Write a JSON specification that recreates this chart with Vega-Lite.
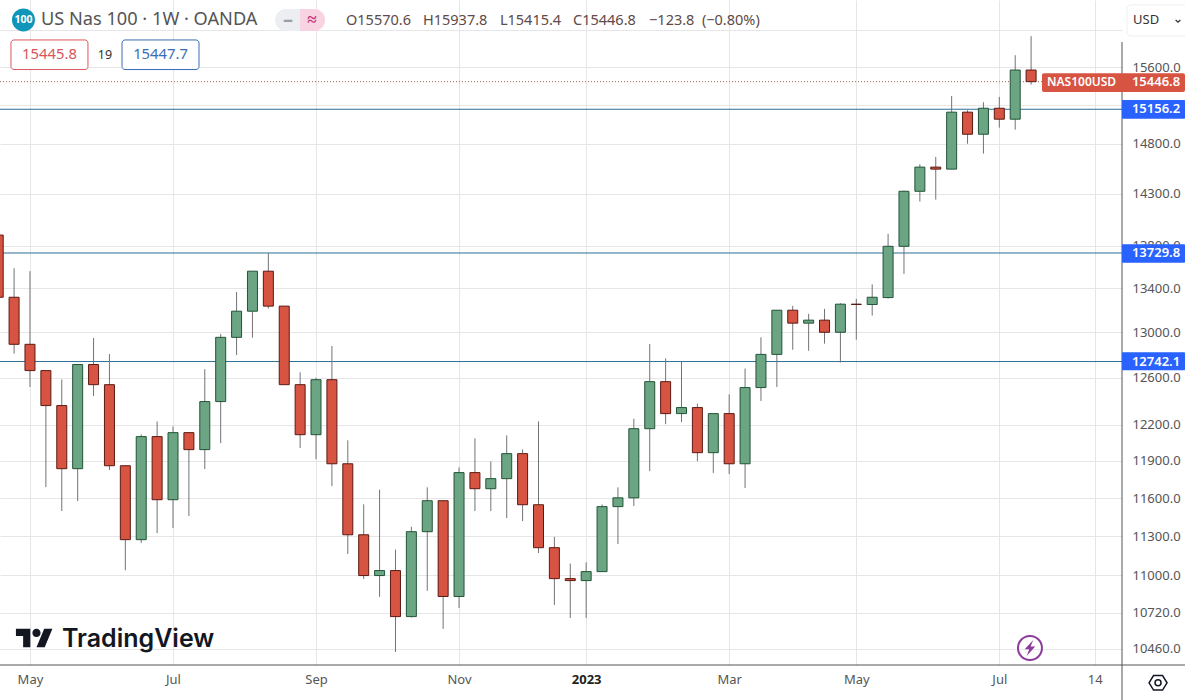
{"$schema":"https://vega.github.io/schema/vega-lite/v6.json","width":1122,"height":665,"autosize":{"type":"none"},"padding":{"left":0,"top":0,"right":63,"bottom":35},"background":"#ffffff","config":{"view":{"stroke":null},"text":{"font":"Noto Sans"}},
"datasets":{
"hlines":[{"date":"2022-04-18T19:00:00Z","date2":"2023-08-26T01:00:00Z","price":15156.2},{"date":"2022-04-18T19:00:00Z","date2":"2023-08-26T01:00:00Z","price":13729.8},{"date":"2022-04-18T19:00:00Z","date2":"2023-08-26T01:00:00Z","price":12742.1}],
"lastline":[{"date":"2022-04-18T19:00:00Z","date2":"2023-07-21T19:00:00Z","price":15446.8}],
"candles":[
{"date":"2022-04-18","open":13900,"high":13900,"low":13318,"close":13318},
{"date":"2022-04-25","open":13318,"high":13587,"low":12811,"close":12894},
{"date":"2022-05-02","open":12894,"high":13559,"low":12521,"close":12663},
{"date":"2022-05-09","open":12663,"high":12663,"low":11688,"close":12362},
{"date":"2022-05-16","open":12362,"high":12586,"low":11497,"close":11837},
{"date":"2022-05-23","open":11837,"high":12716,"low":11576,"close":12716},
{"date":"2022-05-30","open":12716,"high":12950,"low":12444,"close":12541},
{"date":"2022-06-06","open":12541,"high":12808,"low":11826,"close":11861},
{"date":"2022-06-13","open":11861,"high":11861,"low":11038,"close":11273},
{"date":"2022-06-20","open":11273,"high":12120,"low":11247,"close":12101},
{"date":"2022-06-27","open":12101,"high":12228,"low":11324,"close":11587},
{"date":"2022-07-04","open":11587,"high":12186,"low":11363,"close":12134},
{"date":"2022-07-11","open":12134,"high":12134,"low":11458,"close":11993},
{"date":"2022-07-18","open":11993,"high":12675,"low":11834,"close":12396},
{"date":"2022-07-25","open":12396,"high":12986,"low":12047,"close":12956},
{"date":"2022-08-01","open":12956,"high":13366,"low":12799,"close":13191},
{"date":"2022-08-08","open":13191,"high":13559,"low":12953,"close":13559},
{"date":"2022-08-15","open":13559,"high":13728,"low":13215,"close":13237},
{"date":"2022-08-22","open":13237,"high":13237,"low":12541,"close":12541},
{"date":"2022-08-29","open":12541,"high":12648,"low":12006,"close":12117},
{"date":"2022-09-05","open":12117,"high":12601,"low":11915,"close":12584},
{"date":"2022-09-12","open":12584,"high":12879,"low":11696,"close":11877},
{"date":"2022-09-19","open":11877,"high":12070,"low":11163,"close":11311},
{"date":"2022-09-26","open":11311,"high":11550,"low":10972,"close":10998},
{"date":"2022-10-03","open":10998,"high":11667,"low":10838,"close":11036},
{"date":"2022-10-10","open":11036,"high":11196,"low":10435,"close":10692},
{"date":"2022-10-17","open":10692,"high":11374,"low":10685,"close":11335},
{"date":"2022-10-24","open":11335,"high":11686,"low":10883,"close":11579},
{"date":"2022-10-31","open":11579,"high":11579,"low":10602,"close":10841},
{"date":"2022-11-07","open":10841,"high":11847,"low":10756,"close":11805},
{"date":"2022-11-14","open":11805,"high":12086,"low":11497,"close":11675},
{"date":"2022-11-21","open":11675,"high":11896,"low":11497,"close":11756},
{"date":"2022-11-28","open":11756,"high":12111,"low":11442,"close":11960},
{"date":"2022-12-05","open":11960,"high":11995,"low":11418,"close":11547},
{"date":"2022-12-12","open":11547,"high":12228,"low":11170,"close":11211},
{"date":"2022-12-19","open":11211,"high":11295,"low":10778,"close":10975},
{"date":"2022-12-26","open":10975,"high":11089,"low":10682,"close":10960},
{"date":"2023-01-02","open":10960,"high":11099,"low":10682,"close":11028},
{"date":"2023-01-09","open":11028,"high":11550,"low":11028,"close":11532},
{"date":"2023-01-16","open":11532,"high":11686,"low":11239,"close":11602},
{"date":"2023-01-23","open":11602,"high":12251,"low":11536,"close":12167},
{"date":"2023-01-30","open":12167,"high":12897,"low":11817,"close":12567},
{"date":"2023-02-06","open":12567,"high":12770,"low":12205,"close":12294},
{"date":"2023-02-13","open":12294,"high":12744,"low":12222,"close":12345},
{"date":"2023-02-20","open":12345,"high":12379,"low":11898,"close":11968},
{"date":"2023-02-27","open":11968,"high":12294,"low":11802,"close":12294},
{"date":"2023-03-06","open":12294,"high":12458,"low":11793,"close":11877},
{"date":"2023-03-13","open":11877,"high":12681,"low":11680,"close":12516},
{"date":"2023-03-20","open":12516,"high":12956,"low":12401,"close":12805},
{"date":"2023-03-27","open":12805,"high":13200,"low":12521,"close":13200},
{"date":"2023-04-03","open":13200,"high":13240,"low":12846,"close":13083},
{"date":"2023-04-10","open":13083,"high":13167,"low":12837,"close":13110},
{"date":"2023-04-17","open":13110,"high":13212,"low":12900,"close":13001},
{"date":"2023-04-24","open":13001,"high":13264,"low":12734,"close":13255},
{"date":"2023-05-01","open":13255,"high":13303,"low":12935,"close":13252},
{"date":"2023-05-08","open":13252,"high":13437,"low":13151,"close":13318},
{"date":"2023-05-15","open":13315,"high":13912,"low":13306,"close":13793},
{"date":"2023-05-22","open":13793,"high":14331,"low":13534,"close":14325},
{"date":"2023-05-29","open":14325,"high":14595,"low":14224,"close":14565},
{"date":"2023-06-05","open":14565,"high":14668,"low":14243,"close":14545},
{"date":"2023-06-12","open":14545,"high":15296,"low":14545,"close":15126},
{"date":"2023-06-19","open":15126,"high":15146,"low":14801,"close":14898},
{"date":"2023-06-26","open":14898,"high":15230,"low":14701,"close":15167},
{"date":"2023-07-03","open":15167,"high":15286,"low":14966,"close":15053},
{"date":"2023-07-10","open":15053,"high":15730,"low":14945,"close":15570.6},
{"date":"2023-07-17","open":15570.6,"high":15937.8,"low":15415.4,"close":15446.8}
],
"blueBoxes":[{"date":"2023-08-26T01:00:00Z","date2":"2023-09-22T19:00:00Z","price":15253,"price2":15058},{"date":"2023-08-26T01:00:00Z","date2":"2023-09-22T19:00:00Z","price":13812,"price2":13639},{"date":"2023-08-26T01:00:00Z","date2":"2023-09-22T19:00:00Z","price":12823,"price2":12667}],
"redBox":[{"date":"2023-07-21T19:00:00Z","date2":"2023-09-22T19:00:00Z","price":15536,"price2":15337}],
"boxText":[{"date":"2023-08-30T10:00:00Z","price":15156.2,"text":"15156.2"},{"date":"2023-08-30T10:00:00Z","price":13729.8,"text":"13729.8"},{"date":"2023-08-30T10:00:00Z","price":12742.1,"text":"12742.1"},{"date":"2023-08-30T10:00:00Z","price":15446.8,"text":"15446.8"}],
"symText":[{"date":"2023-07-24T00:00:00Z","price":15446.8,"text":"NAS100USD"}],
"pill":[{"date":"2022-08-17T22:00:00Z","date2":"2022-09-08T23:00:00Z","price":16238,"price2":15994}],
"pillPink":[{"date":"2022-08-28T22:00:00Z","date2":"2022-09-08T23:00:00Z","price":16238,"price2":15994}],
"icon":[{"date":"2022-04-29T03:00:00Z","price":16116,"text":"100"}],
"title":[{"date":"2022-05-06T20:00:00Z","price":16116,"text":"US Nas 100 · 1W · OANDA"}],
"ohlc":[{"date":"2022-09-18T05:00:00Z","price":16105,"text":"O15570.6"},{"date":"2022-10-22T03:00:00Z","price":16105,"text":"H15937.8"},{"date":"2022-11-25T00:00:00Z","price":16105,"text":"L15415.4"},{"date":"2022-12-27T05:00:00Z","price":16105,"text":"C15446.8"},{"date":"2023-01-29T17:00:00Z","price":16105,"text":"−123.8"},{"date":"2023-02-22T00:00:00Z","price":16105,"text":"(−0.80%)"}],
"minus":[{"date":"2022-08-23T16:00:00Z","price":16116,"text":"–"}],
"approx":[{"date":"2022-09-03T05:00:00Z","price":16116,"text":"≈"}],
"bidBox":[{"date":"2022-04-23T15:00:00Z","date2":"2022-05-27T13:00:00Z","price":15896,"price2":15576}],
"askBox":[{"date":"2022-06-11T13:00:00Z","date2":"2022-07-15T11:00:00Z","price":15896,"price2":15576}],
"bidText":[{"date":"2022-05-10T14:00:00Z","price":15732,"text":"15445.8"}],
"askText":[{"date":"2022-06-28T12:00:00Z","price":15732,"text":"15447.7"}],
"spread":[{"date":"2022-06-04T01:00:00Z","price":15732,"text":"19"}],
"usdBox":[{"date":"2023-08-28T05:00:00Z","date2":"2023-09-26T00:00:00Z","price":16283,"price2":15939}],
"usdText":[{"date":"2023-08-30T22:00:00Z","price":16116,"text":"USD"}],
"usdCaret":[{"date":"2023-09-19T17:00:00Z","price":16105}],
"axisV":[{"date":"2023-08-26T01:00:00Z","price":15874,"price2":10096}],
"axisH":[{"date":"2022-04-18T19:00:00Z","date2":"2023-09-22T19:00:00Z","price":10342}],
"logo":[{"date":"2022-05-03T23:00:00Z","price":10535}],
"logoText":[{"date":"2022-05-16T02:00:00Z","price":10470,"text":"TradingView"}],
"bolt":[{"date":"2023-07-16T12:00:00Z","price":10464}],
"gear":[{"date":"2023-09-10T22:00:00Z","price":10216}]
},
"encoding":{
"x":{"field":"date","type":"temporal","title":null,"scale":{"type":"utc","padding":0,"domain":["2022-04-18T19:00:00Z","2023-08-26T01:00:00Z"]},"axis":{"values":["2022-05-02","2022-07-04","2022-09-05","2022-11-07","2023-01-02","2023-03-06","2023-05-01","2023-07-03","2023-08-14"],"labelExpr":"utcmonth(datum.value)==0?'2023':utcmonth(datum.value)==7?'14':utcFormat(datum.value,'%b')","labelFontWeight":{"condition":{"test":"utcmonth(datum.value)==0","value":"bold"},"value":"normal"},"labelColor":{"condition":{"test":"utcmonth(datum.value)==0","value":"#222222"},"value":"#555555"},"labelFont":"Noto Sans","labelFontSize":13,"labelPadding":8,"labelFlush":false,"labelBound":false,"labelOverlap":false,"grid":true,"gridColor":"#e6e6e8","gridWidth":1,"ticks":false,"domain":false}},
"y":{"field":"price","type":"quantitative","title":null,"scale":{"type":"log","domain":[10342,16339],"nice":false,"zero":false},"axis":{"orient":"right","values":[16000,15600,15200,14800,14300,13800,13400,13000,12600,12200,11900,11600,11300,11000,10720,10460],"labelExpr":"datum.value==16000||datum.value==15200?'':format(datum.value,'.1f')","labelColor":"#555555","labelFont":"Noto Sans","labelFontSize":13,"labelPadding":10,"labelBound":false,"labelFlush":false,"labelOverlap":false,"grid":true,"gridColor":"#e6e6e8","gridWidth":1,"ticks":false,"domain":false}}
},
"layer":[
{"data":{"name":"hlines"},"mark":{"type":"rule","color":"#2b6f96","strokeWidth":1},"encoding":{"x2":{"field":"date2"}}},
{"data":{"name":"lastline"},"mark":{"type":"rule","color":"#a5604f","strokeWidth":1,"strokeDash":[1,2]},"encoding":{"x2":{"field":"date2"}}},
{"data":{"name":"candles"},"mark":{"type":"rule","color":"#737375","strokeWidth":1,"clip":true},"encoding":{"y":{"field":"low","type":"quantitative"},"y2":{"field":"high"}}},
{"data":{"name":"candles"},"mark":{"type":"bar","size":10,"strokeWidth":1,"clip":true},"encoding":{"y":{"field":"open","type":"quantitative"},"y2":{"field":"close"},"color":{"condition":{"test":"datum.close>=datum.open","value":"#6ba583"},"value":"#d75442"},"stroke":{"condition":{"test":"datum.close>=datum.open","value":"#225437"},"value":"#5b1a13"}}},
{"data":{"name":"axisV"},"mark":{"type":"rule","color":"#555555","strokeWidth":1},"encoding":{"y2":{"field":"price2"}}},
{"data":{"name":"axisH"},"mark":{"type":"rule","color":"#555555","strokeWidth":1},"encoding":{"x2":{"field":"date2"}}},
{"data":{"name":"blueBoxes"},"mark":{"type":"rect","color":"#2962ff","cornerRadius":1},"encoding":{"x2":{"field":"date2"},"y2":{"field":"price2"}}},
{"data":{"name":"redBox"},"mark":{"type":"rect","color":"#d75442","cornerRadius":2},"encoding":{"x2":{"field":"date2"},"y2":{"field":"price2"}}},
{"data":{"name":"boxText"},"mark":{"type":"text","align":"left","baseline":"middle","color":"#ffffff","fontSize":13,"fontWeight":600},"encoding":{"text":{"field":"text"}}},
{"data":{"name":"symText"},"mark":{"type":"text","align":"left","baseline":"middle","color":"#ffffff","fontSize":12,"fontWeight":600},"encoding":{"text":{"field":"text"}}},
{"data":{"name":"pill"},"mark":{"type":"rect","color":"#eceef1","cornerRadius":11},"encoding":{"x2":{"field":"date2"},"y2":{"field":"price2"}}},
{"data":{"name":"pillPink"},"mark":{"type":"rect","color":"#f8d3e2","cornerRadiusTopRight":11,"cornerRadiusBottomRight":11},"encoding":{"x2":{"field":"date2"},"y2":{"field":"price2"}}},
{"data":{"name":"minus"},"mark":{"type":"text","align":"center","baseline":"middle","color":"#9a9ea5","fontSize":20,"fontWeight":"bold"},"encoding":{"text":{"field":"text"}}},
{"data":{"name":"approx"},"mark":{"type":"text","align":"center","baseline":"middle","color":"#c2337a","fontSize":17,"fontWeight":"bold"},"encoding":{"text":{"field":"text"}}},
{"data":{"name":"icon"},"mark":{"type":"point","shape":"circle","filled":true,"color":"#0f96b8","size":529,"opacity":1}},
{"data":{"name":"icon"},"mark":{"type":"text","align":"center","baseline":"middle","color":"#ffffff","fontSize":10.5,"fontWeight":"bold"},"encoding":{"text":{"field":"text"}}},
{"data":{"name":"title"},"mark":{"type":"text","align":"left","baseline":"middle","color":"#555555","fontSize":18.2},"encoding":{"text":{"field":"text"}}},
{"data":{"name":"ohlc"},"mark":{"type":"text","align":"left","baseline":"middle","color":"#5e4a48","fontSize":14.5},"encoding":{"text":{"field":"text"}}},
{"data":{"name":"bidBox"},"mark":{"type":"rect","fill":"#ffffff","stroke":"#d9555a","strokeWidth":1,"cornerRadius":3},"encoding":{"x2":{"field":"date2"},"y2":{"field":"price2"}}},
{"data":{"name":"askBox"},"mark":{"type":"rect","fill":"#ffffff","stroke":"#3a6db5","strokeWidth":1,"cornerRadius":3},"encoding":{"x2":{"field":"date2"},"y2":{"field":"price2"}}},
{"data":{"name":"bidText"},"mark":{"type":"text","align":"center","baseline":"middle","color":"#d9555a","fontSize":14.8},"encoding":{"text":{"field":"text"}}},
{"data":{"name":"askText"},"mark":{"type":"text","align":"center","baseline":"middle","color":"#3a6db5","fontSize":14.8},"encoding":{"text":{"field":"text"}}},
{"data":{"name":"spread"},"mark":{"type":"text","align":"center","baseline":"middle","color":"#333333","fontSize":12.5},"encoding":{"text":{"field":"text"}}},
{"data":{"name":"usdBox"},"mark":{"type":"rect","fill":"#ffffff","stroke":"#eceef1","strokeWidth":1,"cornerRadius":4},"encoding":{"x2":{"field":"date2"},"y2":{"field":"price2"}}},
{"data":{"name":"usdText"},"mark":{"type":"text","align":"left","baseline":"middle","color":"#333333","fontSize":13},"encoding":{"text":{"field":"text"}}},
{"data":{"name":"usdCaret"},"mark":{"type":"point","filled":false,"color":"#333333","opacity":1,"size":64,"strokeWidth":1.3,"shape":"M-0.6,-0.25 L0,0.3 L0.6,-0.25"}},
{"data":{"name":"logo"},"mark":{"type":"point","filled":true,"color":"#131722","opacity":1,"size":1369,"strokeWidth":0,"shape":"M-0.222,0.5 L-0.611,0.5 L-0.611,-0.111 L-1,-0.111 L-1,-0.5 L-0.222,-0.5 Z M0.556,0.5 L0.111,0.5 L0.528,-0.5 L0.972,-0.5 Z M-0.111,-0.278 a0.222,0.222 0 1,0 0.444,0 a0.222,0.222 0 1,0 -0.444,0 Z"}},
{"data":{"name":"logoText"},"mark":{"type":"text","align":"left","baseline":"alphabetic","color":"#131722","font":"Inter","fontSize":25,"fontWeight":600},"encoding":{"text":{"field":"text"}}},
{"data":{"name":"bolt"},"mark":{"type":"point","shape":"circle","filled":false,"color":"#8e3a9d","size":576,"strokeWidth":2,"opacity":1}},
{"data":{"name":"bolt"},"mark":{"type":"point","filled":true,"color":"#8e3a9d","opacity":1,"size":700,"strokeWidth":0,"shape":"M0.25,-0.6 L-0.4,0.1 L-0.05,0.1 L-0.25,0.6 L0.4,-0.1 L0.05,-0.1 Z"}},
{"data":{"name":"gear"},"mark":{"type":"point","filled":false,"color":"#131722","opacity":1,"size":324,"strokeWidth":1.5,"shape":"M-1,0 L-0.5,-0.8 L0.5,-0.8 L1,0 L0.5,0.8 L-0.5,0.8 Z"}},
{"data":{"name":"gear"},"mark":{"type":"point","shape":"circle","filled":false,"color":"#131722","opacity":1,"size":36,"strokeWidth":1.5}}
]}
